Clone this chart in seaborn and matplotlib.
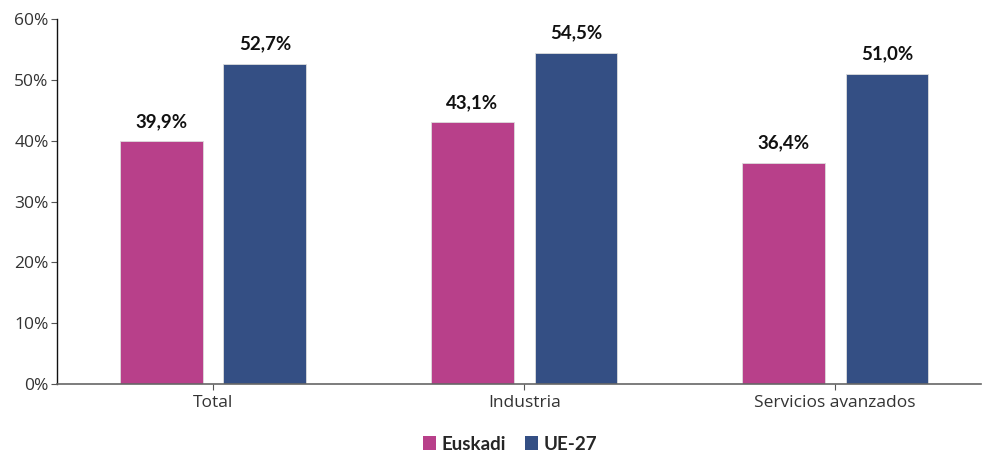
import matplotlib.pyplot as plt
import pandas as pd
import seaborn as sns

# Datos
sectores = ["Total", "Industria", "Servicios avanzados"]
euskadi = [39.9, 43.1, 36.4]
ue27 = [52.7, 54.5, 51.0]
series = ["Euskadi", "UE-27"]
colores = ["#B8408A", "#344F84"]

df = pd.DataFrame({
    "sector": sectores * 2,
    "valor": euskadi + ue27,
    "serie": [series[0]] * 3 + [series[1]] * 3,
})

sns.set_style("white")
plt.rcParams["font.family"] = ["Open Sans", "DejaVu Sans"]
negrita = ["Lato", "DejaVu Sans"]

fig = plt.figure(figsize=(9.83, 4.55), dpi=100)
ax = fig.add_axes([0.058, 0.156, 0.94, 0.802])

sns.barplot(data=df, x="sector", y="valor", hue="serie", order=sectores,
            hue_order=series, palette=colores, width=0.666, gap=0.2,
            saturation=1, edgecolor="#dddddd", linewidth=0.6, ax=ax)

for cont in ax.containers:
    labels = [f"{v:.1f}%".replace(".", ",") for v in cont.datavalues]
    ax.bar_label(cont, labels=labels, padding=8, fontsize=13.5,
                 fontweight="bold", color="#111111", family=negrita)

ax.set_ylim(0, 60)
ax.set_xlim(-0.502, 2.469)
ax.set_yticks(range(0, 61, 10))
ax.set_yticklabels([f"{v}%" for v in range(0, 61, 10)])
ax.set_xlabel("")
ax.set_ylabel("")
ax.tick_params(axis="y", labelsize=12.5, colors="#333333", length=4, width=0.8,
               direction="out", pad=2, left=True)
ax.tick_params(axis="x", labelsize=12.5, colors="#333333", length=4, width=0.8,
               direction="out", pad=4, bottom=True)
ax.tick_params(axis="both", color="#555555")

sns.despine(ax=ax, top=True, right=True)
ax.spines["left"].set_color("#111111")
ax.spines["left"].set_linewidth(1)
ax.spines["bottom"].set_color("#666666")
ax.spines["bottom"].set_linewidth(1.2)

leg = ax.legend(loc="upper center", bbox_to_anchor=(0.49, -0.095), ncol=2,
                frameon=False, handlelength=0.7, handleheight=0.7,
                handletextpad=0.3, columnspacing=1.0,
                prop={"family": negrita, "size": 13.5, "weight": "bold"})
for h in leg.legend_handles:
    h.set_edgecolor("none")

fig.savefig("out.png", dpi=100)
